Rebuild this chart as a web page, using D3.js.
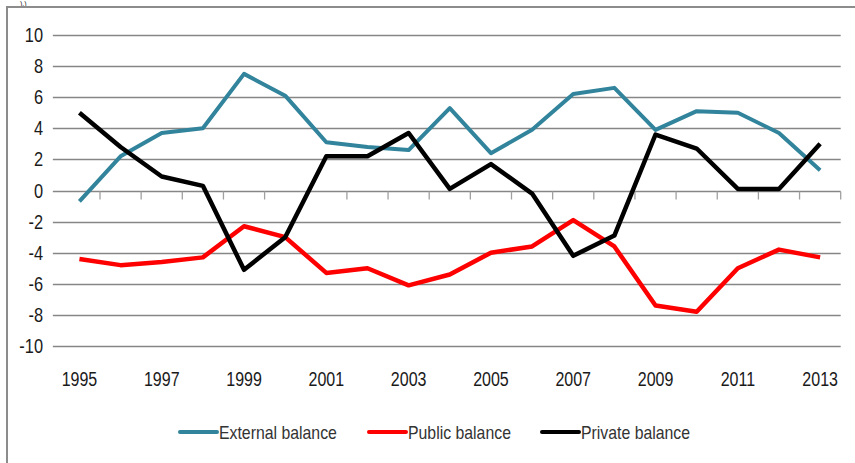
<!DOCTYPE html>
<html>
<head>
<meta charset="utf-8">
<script src="https://cdnjs.cloudflare.com/ajax/libs/d3/7.8.5/d3.min.js"></script>
<style>
  html, body { margin: 0; padding: 0; background: #fff; }
  svg { display: block; }
  text { font-family: "Liberation Sans", Arial, sans-serif; fill: #1a1a1a; }
</style>
</head>
<body>
<div id="chart"></div>
<script>
// categories
var years = [1995, 1996, 1997, 1998, 1999, 2000, 2001, 2002, 2003, 2004,
             2005, 2006, 2007, 2008, 2009, 2010, 2011, 2012, 2013];

// series values
var externalBalance = [-0.7, 2.2, 3.7, 4.0, 7.5, 6.1, 3.1, 2.8, 2.6, 5.3,
                       2.4, 3.9, 6.2, 6.6, 3.9, 5.1, 5.0, 3.7, 1.3];
var publicBalance   = [-4.4, -4.8, -4.6, -4.3, -2.3, -3.0, -5.3, -5.0, -6.1, -5.4,
                       -4.0, -3.6, -1.9, -3.6, -7.4, -7.8, -5.0, -3.8, -4.3];
var privateBalance  = [5.0, 2.8, 0.9, 0.3, -5.1, -3.0, 2.2, 2.2, 3.7, 0.1,
                       1.7, -0.2, -4.2, -2.9, 3.6, 2.7, 0.1, 0.1, 3.0];

var yTicks = [-10, -8, -6, -4, -2, 0, 2, 4, 6, 8, 10];
var xLabelYears = [1995, 1997, 1999, 2001, 2003, 2005, 2007, 2009, 2011, 2013];

var seriesNames = ["External balance", "Public balance", "Private balance"];
var seriesColors = ["#31849b", "#ff0000", "#000000"];

var W = 855, H = 463;
var plot = { left: 58.85, right: 840.7, top: 35, bottom: 346 };

var svg = d3.select("#chart").append("svg")
  .attr("width", W)
  .attr("height", H);

// leftover of a title above the frame
svg.append("text")
  .attr("x", 20).attr("y", 6)
  .style("font-size", "7px")
  .text("),)");

// outer frame (left + top only)
svg.append("path")
  .attr("d", "M7," + H + "V7H" + W)
  .attr("fill", "none")
  .attr("stroke", "#8c8c8c")
  .attr("stroke-width", 2);

var x = d3.scaleBand()
  .domain(years)
  .range([plot.left, plot.right]);

var y = d3.scaleLinear()
  .domain([-10, 10])
  .range([plot.bottom, plot.top]);

var cx = function (yr) { return x(yr) + x.bandwidth() / 2; };

// gridlines, with the outside y tick marks
svg.append("g")
  .selectAll("line")
  .data(yTicks)
  .join("line")
  .attr("x1", plot.left - 6)
  .attr("x2", plot.right)
  .attr("y1", function (d) { return Math.round(y(d)) + 0.5; })
  .attr("y2", function (d) { return Math.round(y(d)) + 0.5; })
  .attr("stroke", "#868686")
  .attr("stroke-width", 1.3);

// y tick labels
svg.append("g")
  .selectAll("text")
  .data(yTicks)
  .join("text")
  .attr("transform", function (d) { return "translate(43," + (y(d) + 7) + ") scale(0.82,1)"; })
  .attr("text-anchor", "end")
  .style("font-size", "20px")
  .text(function (d) { return d; });

// x axis at zero with tick marks between categories
var y0 = Math.round(y(0)) + 0.5;
var bounds = years.map(function (d) { return x(d); }).concat([plot.right]);
svg.append("g")
  .selectAll("line")
  .data(bounds.slice(1))
  .join("line")
  .attr("x1", function (d) { return d; })
  .attr("x2", function (d) { return d; })
  .attr("y1", y0)
  .attr("y2", y0 + 8)
  .attr("stroke", "#a0a0a0")
  .attr("stroke-width", 1.3);

svg.append("g")
  .selectAll("text")
  .data(xLabelYears)
  .join("text")
  .attr("transform", function (d) { return "translate(" + cx(d) + ",386) scale(0.8,1)"; })
  .attr("text-anchor", "middle")
  .style("font-size", "20px")
  .text(function (d) { return d; });

// lines
var allSeries = [externalBalance, publicBalance, privateBalance];
var line = d3.line()
  .x(function (d, i) { return cx(years[i]); })
  .y(function (d) { return y(d); });

svg.append("g")
  .selectAll("path")
  .data(allSeries)
  .join("path")
  .attr("fill", "none")
  .attr("stroke", function (d, i) { return seriesColors[i]; })
  .attr("stroke-width", function (d, i) { return i == 0 ? 4 : 4.5; })
  .attr("stroke-linejoin", "round")
  .attr("d", line);

// legend
var legendX = [180, 369, 542];
var legend = svg.append("g")
  .selectAll("g")
  .data(seriesNames)
  .join("g")
  .attr("transform", function (d, i) { return "translate(" + legendX[i] + ",432)"; });

legend.append("line")
  .attr("x1", 0).attr("x2", 37)
  .attr("y1", 0).attr("y2", 0)
  .attr("stroke", function (d, i) { return seriesColors[i]; })
  .attr("stroke-width", 4)
  .attr("stroke-linecap", "round");

legend.append("text")
  .attr("transform", "translate(39,6.5) scale(0.88,1)")
  .style("font-size", "18px")
  .style("fill", "#333")
  .text(function (d) { return d; });
</script>
</body>
</html>
